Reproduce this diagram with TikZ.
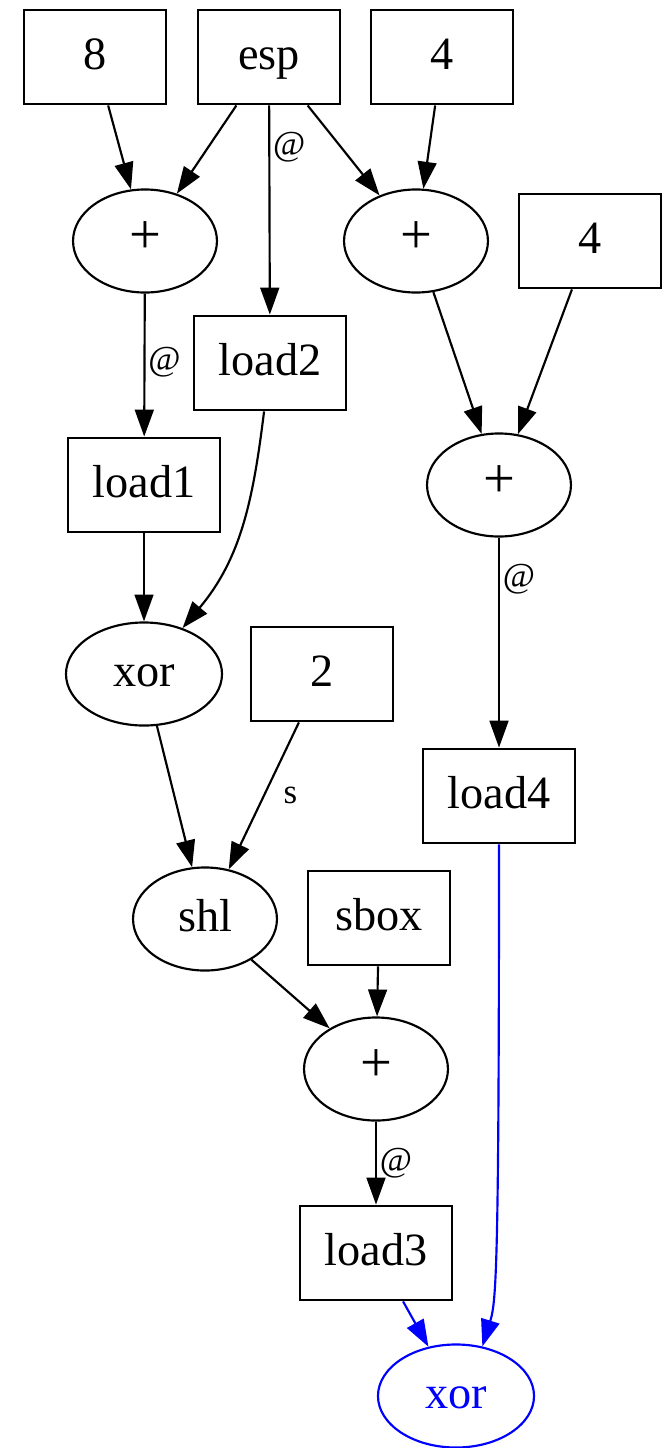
\documentclass[tikz,border=0pt]{standalone}
\usepackage{fontspec}
\setmainfont{Liberation Serif}
\usetikzlibrary{shapes.geometric, arrows.meta, positioning}

\begin{document}
\begin{tikzpicture}[x=0.3717pt, y=0.3717pt, line width=0.8pt,
    >={Triangle[length=10pt, width=7pt]}]
    \tikzstyle{val}=[
        draw = black,
        rectangle,
        minimum width = 53pt,
        minimum height = 35.2pt,
        inner xsep = 9pt,
        text height = 12pt,
        text depth = 3pt,
        font = \fontsize{17.2}{20}\selectfont
    ]
    \tikzstyle{op}=[
        draw = black,
        ellipse,
        inner sep = 0pt,
        minimum width = 53.5pt,
        minimum height = 38.3pt,
        text height = 12pt,
        text depth = 3pt,
        font = \fontsize{17.2}{20}\selectfont
    ]
    \tikzstyle{add}=[op, font = \fontsize{21}{24}\selectfont]
    \tikzstyle{wide}=[minimum width = 58pt]
    \tikzstyle{lbl}=[inner sep = 1pt, font = \fontsize{13}{15}\selectfont]
    \useasboundingbox (0,0) rectangle (664,-1448);
    \node[val] (c8)    at (95,-57)   {8};
    \node[val] (esp)   at (269,-57)  {esp};
    \node[val] (c4a)   at (442,-57)  {4};
    \node[add] (add1)  at (145,-241) {+};
    \node[add] (add2)  at (416,-241) {+};
    \node[val] (c4b)   at (590,-241) {4};
    \node[val] (load2) at (270,-363) {load2};
    \node[val] (load1) at (144,-485) {load1};
    \node[add] (add3)  at (499,-485) {+};
    \node[op, wide] (xor1) at (144,-674) {xor};
    \node[val] (c2)    at (322,-674) {2};
    \node[val] (load4) at (499,-796) {load4};
    \node[op]  (shl)   at (205,-919) {shl};
    \node[val] (sbox)  at (379,-918) {sbox};
    \node[add] (add4)  at (376,-1069) {+};
    \node[val] (load3) at (376,-1253) {load3};
    \node[op, wide, blue] (xor2) at (456,-1396) {xor};

    \path[->] (c8) edge (add1)
              (esp) edge (add1)
              (esp) edge node[lbl, right, pos=.2] {@} (load2)
              (esp) edge (add2)
              (c4a) edge (add2)
              (add2) edge (add3)
              (c4b) edge (add3)
              (add1) edge node[lbl, right, pos=.48] {@} (load1)
              (load2) edge [out=-97, in=50] (xor1)
              (load1) edge (xor1)
              (add3) edge node[lbl, right, pos=.2] {@} (load4)
              (xor1) edge (shl)
              (c2) edge node[lbl, right=6pt, pos=.5] {s} (shl)
              (shl) edge (add4)
              (sbox) edge (add4)
              (add4) edge node[lbl, right, pos=.5] {@} (load3)
              (load3) edge [color=blue] (xor2);
    \draw[->, blue] (load4) .. controls +(0,-470) and +(14,45) .. (xor2.62);
\end{tikzpicture}
\end{document}
